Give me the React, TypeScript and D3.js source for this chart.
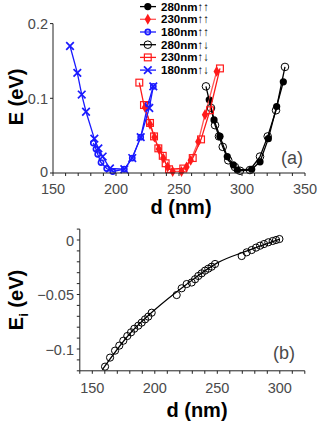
import React from "react";
import * as d3 from "d3";

// panel (a): E vs d
const d280uu = [274, 277.8, 282.5, 288.3, 293.1, 296.3, 307.7, 314.3, 320.9, 327.5, 332.8];
const e280uu = [0.098, 0.071, 0.049, 0.022, 0.011, 0.004, 0.005, 0.015, 0.046, 0.089, 0.122];
const d230uu = [223, 227, 230.5, 234, 237.5, 241, 245, 252, 256, 259.3, 265.3, 270.6, 279.9];
const e230uu = [0.088, 0.065, 0.048, 0.032, 0.02, 0.008, 0.002, 0.002, 0.008, 0.017, 0.042, 0.078, 0.136];
const d180uu = [182, 184.1, 185.5, 188.1, 192.6, 197.4, 206.6, 212.9, 219.6, 225.4, 229.6];
const e180uu = [0.04, 0.032, 0.025, 0.014, 0.006, 0.002, 0.005, 0.02, 0.048, 0.092, 0.116];
const d280ud = [271.4, 275.4, 278.6, 281.7, 284.7, 289.1, 294.4, 298.4, 306.3, 314.3, 320.4, 327, 334.1];
const e280ud = [0.116, 0.087, 0.064, 0.049, 0.035, 0.017, 0.008, 0.003, 0.004, 0.022, 0.049, 0.084, 0.142];
const d230ud = [218.5, 222.2, 227, 230.2, 233.6, 237.1, 239.4, 242.1, 253.4, 260.9, 267.5, 274.6, 282.5];
const e230ud = [0.121, 0.091, 0.067, 0.049, 0.033, 0.023, 0.013, 0.005, 0.006, 0.02, 0.045, 0.084, 0.14];
const d180ud = [163.5, 169.3, 172.8, 176.2, 182.8, 186, 189.4, 195.2, 206.6, 212.9, 219.6, 226.4, 229.6];
const e180ud = [0.17, 0.134, 0.105, 0.082, 0.046, 0.033, 0.022, 0.006, 0.005, 0.02, 0.048, 0.087, 0.116];
const legendLabels = ["280nm↑↑", "230nm↑↑", "180nm↑↑", "280nm↑↓", "230nm↑↓", "180nm↑↓"];

// panel (b): Ei vs d
const dB = [160.2, 164.2, 168.2, 171.6, 174.8, 178, 181, 183.6, 186.8, 189.5, 192.2, 194.8, 197.5,
  217.5, 221.5, 225.5, 229.5, 232.2, 234.8, 237.5, 240.2, 242.8, 245.5, 248.2,
  269.5, 273.5, 277.5, 281, 284.2, 287.4, 290.8, 294.3, 297, 299.7];
const eB = [-0.1162, -0.1079, -0.1015, -0.0969, -0.0924, -0.0881, -0.0847, -0.0814, -0.0786, -0.0758, -0.0728, -0.0703, -0.0667,
  -0.0505, -0.0443, -0.0404, -0.039, -0.036, -0.033, -0.0306, -0.0281, -0.0263, -0.0245, -0.022,
  -0.0147, -0.0113, -0.0092, -0.007, -0.0052, -0.0037, -0.0021, -0.0009, 0, 0.0009];
const fitD = [158, 180, 200, 225, 250, 275, 300];
const fitE = [-0.119, -0.086, -0.064, -0.041, -0.021, -0.0095, 0.0008];

const BLUE = "#1a1aff";
const RED = "#ff1a1a";
const FONT = "'Liberation Sans', Arial, sans-serif";
const GREY = "#4a4a4a";

const series = [
  { d: d280uu, e: e280uu, color: "#000", line: "#000", marker: "fcircle" },
  { d: d230uu, e: e230uu, color: RED, line: "#ff5555", marker: "diamond" },
  { d: d180uu, e: e180uu, color: BLUE, line: BLUE, marker: "ocircleS" },
  { d: d280ud, e: e280ud, color: "#000", line: "#000", marker: "ocircle" },
  { d: d230ud, e: e230ud, color: RED, line: RED, marker: "square" },
  { d: d180ud, e: e180ud, color: BLUE, line: BLUE, marker: "cross" },
];

function Marker({ type, x, y, color }: { type: string; x: number; y: number; color: string }) {
  if (type === "fcircle") return <circle cx={x} cy={y} r={3.6} fill={color} />;
  if (type === "ocircle") return <circle cx={x} cy={y} r={3.8} fill="none" stroke={color} strokeWidth={1} />;
  if (type === "ocircleS") return <circle cx={x} cy={y} r={2.6} fill="none" stroke={color} strokeWidth={1.6} />;
  if (type === "square") return <rect x={x - 3.4} y={y - 3.4} width={6.8} height={6.8} fill="none" stroke={color} strokeWidth={1.2} />;
  if (type === "diamond")
    return <path transform={`translate(${x},${y})`} d={d3.symbol(d3.symbolDiamond, 34)() || ""} fill={color} />;
  const s = 3.8;
  return (
    <path d={`M${x - s},${y - s}L${x + s},${y + s}M${x - s},${y + s}L${x + s},${y - s}`} stroke={color} strokeWidth={1.7} />
  );
}

export default function App() {
  // panel (a) scales
  const xA = d3.scaleLinear().domain([150, 350]).range([53, 305]);
  const yA = d3.scaleLinear().domain([0, 0.2]).range([173, 23.6]);
  // panel (b) scales
  const xB = d3.scaleLinear().domain([140, 320]).range([79.8, 304.8]);
  const yB = d3.scaleLinear().domain([-0.12, 0.01]).range([370.8, 229.1]);

  const lineA = (ds: number[], es: number[]) =>
    d3.line<number>().x((v) => xA(v)).y((_, i) => yA(es[i]))(ds) || "";
  const fitPath =
    d3.line<number>().x((v) => xB(v)).y((_, i) => yB(fitE[i])).curve(d3.curveMonotoneX)(fitD) || "";

  const xTicksA = d3.range(150, 351, 10);
  const xTicksB = d3.range(140, 321, 10);
  const yTicksB = d3.range(-12, 2, 1).map((v) => v / 100);

  return (
    <svg width={327} height={430} style={{ position: "absolute", left: 0, top: 0 }} fontFamily={FONT}>
      <rect width={327} height={430} fill="#fff" />

      {/* ---- panel (a) ---- */}
      <g>
        {series.map((s, k) => (
          <g key={k}>
            <path d={lineA(s.d, s.e)} fill="none" stroke={s.line} strokeWidth={1.3} />
            {s.d.map((v, i) => (
              <Marker key={i} type={s.marker} x={xA(v)} y={yA(s.e[i])} color={s.color} />
            ))}
          </g>
        ))}
        <line x1={xA(150)} x2={xA(350)} y1={173} y2={173} stroke="#222" />
        <line x1={53} x2={53} y1={yA(0)} y2={yA(0.2)} stroke="#222" />
        {xTicksA.map((t) => (
          <line key={t} x1={xA(t)} x2={xA(t)} y1={173} y2={176} stroke="#222" />
        ))}
        {[150, 200, 250, 300, 350].map((t) => (
          <text key={t} x={xA(t)} y={194} textAnchor="middle" fontSize={14.5} fill={GREY}>{t}</text>
        ))}
        {[0, 0.1, 0.2].map((t) => (
          <g key={t}>
            <line x1={50} x2={53} y1={yA(t)} y2={yA(t)} stroke="#222" />
            <text x={48} y={yA(t) + (t === 0 ? 4 : 5.5)} textAnchor="end" fontSize={14.5} fill={GREY}>
              {t === 0 ? "0" : t.toFixed(1)}
            </text>
          </g>
        ))}
        <text transform="translate(23,97) rotate(-90)" textAnchor="middle" fontSize={20} fontWeight="bold">E (eV)</text>
        <text x={181} y={214} textAnchor="middle" fontSize={20} fontWeight="bold">d (nm)</text>
        <text x={292} y={164} textAnchor="middle" fontSize={18} fill={GREY}>(a)</text>

        {/* legend */}
        {series.map((s, k) => {
          const y = 6.6 + k * 12.7;
          return (
            <g key={k}>
              <line x1={140} x2={156} y1={y} y2={y} stroke={s.line} strokeWidth={1.3} />
              <Marker type={s.marker} x={147.8} y={y} color={s.color} />
              <text x={161} y={y + 4} fontSize={11.5} fontWeight="bold">{legendLabels[k]}</text>
            </g>
          );
        })}
      </g>

      {/* ---- panel (b) ---- */}
      <g>
        <path d={fitPath} fill="none" stroke="#000" strokeWidth={1.2} />
        {dB.map((v, i) => (
          <circle key={i} cx={xB(v)} cy={yB(eB[i])} r={3.6} fill="none" stroke="#000" strokeWidth={1} />
        ))}
        <line x1={xB(140)} x2={xB(320)} y1={yB(-0.12)} y2={yB(-0.12)} stroke="#222" />
        <line x1={xB(140)} x2={xB(140)} y1={yB(-0.12)} y2={yB(0.01)} stroke="#222" />
        {xTicksB.map((t) => (
          <line key={t} x1={xB(t)} x2={xB(t)} y1={yB(-0.12)} y2={yB(-0.12) + 3} stroke="#222" />
        ))}
        {[150, 200, 250, 300].map((t) => (
          <text key={t} x={xB(t)} y={393} textAnchor="middle" fontSize={14.5} fill={GREY}>{t}</text>
        ))}
        {yTicksB.map((t) => (
          <line key={t} x1={xB(140) - 3} x2={xB(140)} y1={yB(t)} y2={yB(t)} stroke="#222" />
        ))}
        {[0, -0.05, -0.1].map((t) => (
          <text key={t} x={74} y={yB(t) + 5.5} textAnchor="end" fontSize={14.5} fill={GREY}>
            {t === 0 ? "0" : "\u2212" + Math.abs(t).toString()}
          </text>
        ))}
        <text transform="translate(23,300) rotate(-90)" textAnchor="middle" fontSize={20} fontWeight="bold">
          <tspan>E</tspan>
          <tspan fontSize={13} dy={5}>i</tspan>
          <tspan dy={-5}> (eV)</tspan>
        </text>
        <text x={197} y={417} textAnchor="middle" fontSize={20} fontWeight="bold">d (nm)</text>
        <text x={284} y={359} textAnchor="middle" fontSize={18} fill={GREY}>(b)</text>
      </g>
    </svg>
  );
}
